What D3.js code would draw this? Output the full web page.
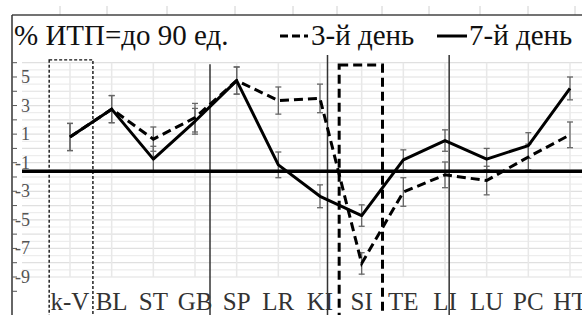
<!DOCTYPE html>
<html>
<head>
<meta charset="utf-8">
<script src="https://cdn.jsdelivr.net/npm/d3@7"></script>
<style>
  body { margin: 0; background: #fff; }
  svg { display: block; }
</style>
</head>
<body>
<svg class="chart"></svg>
<script>
// categories and series
var categories = ["k-V","BL","ST","GB","SP","LR","KI","SI","TE","LI","LU","PC","HT"];
var day3 = [0.8, 2.75, 0.65, 2.15, 4.75, 3.35, 3.5, -8.05, -3.05, -1.85, -2.25, -0.6, 0.95];
var day3Err = [0.95, 0.95, 0.85, 1.0, 0.95, 0.95, 1.0, 0.75, 1.0, 0.9, 1.0, 0.9, 0.9];
var day7 = [0.8, 2.75, -0.75, 1.9, 4.75, -1.15, -3.35, -4.7, -0.8, 0.55, -0.75, 0.2, 4.2];
var day7Err = [0.95, 0.95, 0.9, 0.9, 0.95, 0.9, 0.8, 0.75, 0.7, 0.75, 0.75, 0.9, 0.8];
var yTicks = [5, 3, 1, -1, -3, -5, -7, -9];
var baseLine = -1.6;

var width = 582, height = 315;
var svg = d3.select("svg.chart")
            .attr("width", width)
            .attr("height", height);

var xScale = d3.scaleLinear()
               .domain([0, categories.length - 1])
               .range([70, 570]);
var yScale = d3.scaleLinear()
               .domain([-9, 6])
               .range([277, 62.7]);

// sheet cell grid showing through
var hGrid = d3.range(-9, 6.01, 0.5);
svg.append("g").selectAll("line")
   .data(hGrid)
   .enter()
   .append("line")
   .attr("x1", 22).attr("x2", width)
   .attr("y1", function(d){ return yScale(d); })
   .attr("y2", function(d){ return yScale(d); })
   .attr("stroke", function(d){ return d % 1 === 0 ? "#e0e0e0" : "#ededed"; })
   .attr("stroke-width", 1.2);
svg.append("g").selectAll("line")
   .data(categories)
   .enter()
   .append("line")
   .attr("x1", function(d,i){ return xScale(i); })
   .attr("x2", function(d,i){ return xScale(i); })
   .attr("y1", yScale(6)).attr("y2", yScale(-9))
   .attr("stroke", "#e8e8e8")
   .attr("stroke-width", 1.5);

// column header marks above the frame
var headerMarks = [60, 107, 167, 235, 293, 337, 382, 429, 480, 528, 575];
svg.append("g").selectAll("line")
   .data(headerMarks)
   .enter()
   .append("line")
   .attr("x1", function(d){ return d; }).attr("x2", function(d){ return d; })
   .attr("y1", 6).attr("y2", 15)
   .attr("stroke", "#d0d0d0");

// frame
svg.append("line").attr("x1", 12).attr("x2", width).attr("y1", 15).attr("y2", 15)
   .attr("stroke", "#444").attr("stroke-width", 1.5);
svg.append("line").attr("x1", 12).attr("x2", 12).attr("y1", 15).attr("y2", height)
   .attr("stroke", "#333").attr("stroke-width", 1.5);

// y ticks and labels
svg.append("g").selectAll("line")
   .data(d3.range(-10, 7))
   .enter()
   .append("line")
   .attr("x1", 12).attr("x2", 17)
   .attr("y1", function(d){ return yScale(d); })
   .attr("y2", function(d){ return yScale(d); })
   .attr("stroke", "#555");
svg.append("g").selectAll("text")
   .data(yTicks)
   .enter()
   .append("text")
   .attr("x", 30)
   .attr("y", function(d){ return yScale(d) + 6; })
   .attr("text-anchor", "end")
   .attr("font-family", "Liberation Serif")
   .attr("font-size", 18)
   .attr("fill", "#555")
   .text(function(d){ return d; });

// annotation boxes and lines
svg.append("rect")
   .attr("x", xScale(-0.5)).attr("y", yScale(6.2))
   .attr("width", xScale(0.55) - xScale(-0.5))
   .attr("height", height + 10 - yScale(6.2))
   .attr("fill", "none").attr("stroke", "#111")
   .attr("stroke-width", 1.4).attr("stroke-dasharray", "3,2");
svg.append("rect")
   .attr("x", xScale(6.46)).attr("y", yScale(5.84))
   .attr("width", xScale(7.5) - xScale(6.46))
   .attr("height", height + 10 - yScale(5.84))
   .attr("fill", "none").attr("stroke", "#000")
   .attr("stroke-width", 3).attr("stroke-dasharray", "9,5");
var markerLines = [[3.36, 5.9], [6.18, 6.54], [9.1, 6.54]];
svg.append("g").selectAll("line")
   .data(markerLines)
   .enter()
   .append("line")
   .attr("x1", function(d){ return xScale(d[0]); })
   .attr("x2", function(d){ return xScale(d[0]); })
   .attr("y1", function(d){ return yScale(d[1]); })
   .attr("y2", height)
   .attr("stroke", "#333").attr("stroke-width", 1.5);

// error bars
function errorBars(vals, errs){
  var g = svg.append("g");
  vals.forEach(function(v, i){
    var x = xScale(i), y0 = yScale(v - errs[i]), y1 = yScale(v + errs[i]);
    g.append("line").attr("x1", x).attr("x2", x).attr("y1", y0).attr("y2", y1);
    g.append("line").attr("x1", x - 3).attr("x2", x + 3).attr("y1", y0).attr("y2", y0);
    g.append("line").attr("x1", x - 3).attr("x2", x + 3).attr("y1", y1).attr("y2", y1);
  });
  g.selectAll("line").attr("stroke", "#666").attr("stroke-width", 1.3);
}
errorBars(day3, day3Err);
errorBars(day7, day7Err);

var line = d3.line()
             .x(function(d, i){ return xScale(i); })
             .y(function(d){ return yScale(d); });
svg.append("path").datum(day3)
   .attr("d", line)
   .attr("fill", "none").attr("stroke", "#000")
   .attr("stroke-width", 3).attr("stroke-dasharray", "9,5");
svg.append("path").datum(day7)
   .attr("d", line)
   .attr("fill", "none").attr("stroke", "#000")
   .attr("stroke-width", 3).attr("stroke-linejoin", "round");

// horizontal reference line
svg.append("line")
   .attr("x1", 22).attr("x2", width)
   .attr("y1", yScale(baseLine)).attr("y2", yScale(baseLine))
   .attr("stroke", "#000").attr("stroke-width", 3.5);

// category labels
svg.append("g").selectAll("text")
   .data(categories)
   .enter()
   .append("text")
   .attr("x", function(d,i){ return xScale(i); })
   .attr("y", 310)
   .attr("text-anchor", "middle")
   .attr("font-family", "Liberation Serif")
   .attr("font-size", 25)
   .attr("fill", "#333")
   .text(function(d){ return d; });

// title and legend
svg.append("text")
   .attr("x", 14).attr("y", 45)
   .attr("font-family", "Liberation Serif")
   .attr("font-size", 29)
   .attr("fill", "#111")
   .text("% ИТП=до 90 ед.");
svg.append("line").attr("x1", 280).attr("x2", 308).attr("y1", 36).attr("y2", 36)
   .attr("stroke", "#000").attr("stroke-width", 3).attr("stroke-dasharray", "8,4");
svg.append("text")
   .attr("x", 311).attr("y", 45)
   .attr("font-family", "Liberation Serif")
   .attr("font-size", 29)
   .attr("fill", "#111")
   .text("3-й день");
svg.append("line").attr("x1", 437).attr("x2", 467).attr("y1", 36).attr("y2", 36)
   .attr("stroke", "#000").attr("stroke-width", 3);
svg.append("text")
   .attr("x", 469).attr("y", 45)
   .attr("font-family", "Liberation Serif")
   .attr("font-size", 29)
   .attr("fill", "#111")
   .text("7-й день");
</script>
</body>
</html>
